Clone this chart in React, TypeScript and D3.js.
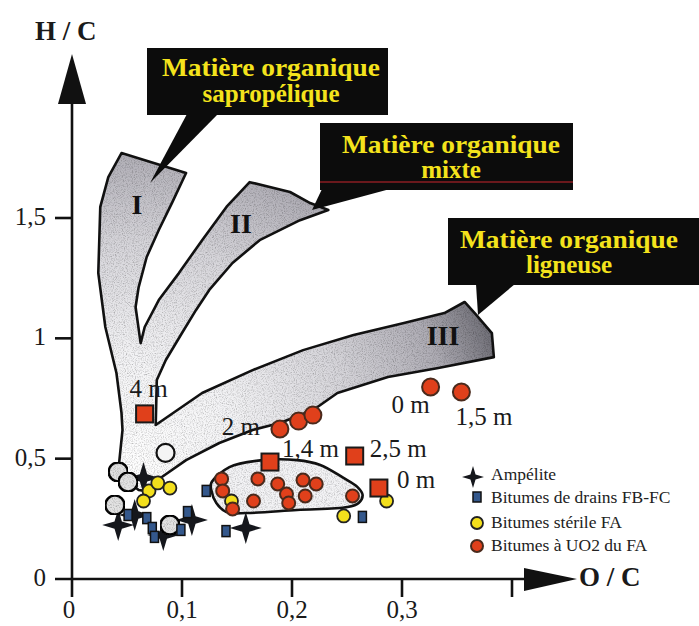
import React from 'react'
import * as d3 from 'd3'

// Diagramme de Van Krevelen : H/C en fonction de O/C

const xTicks = [0, 0.1, 0.2, 0.3, 0.4]
const xTickLabels = ['0', '0,1', '0,2', '0,3', '']
const yTicks = [0, 0.5, 1, 1.5]
const yTickLabels = ['0', '0,5', '1', '1,5']

// échantillons de carotte (carrés rouges), [O/C, H/C]
const carottes = [
  { label: '4 m', oc: 0.066, hc: 0.686 },
  { label: '1,4 m', oc: 0.18, hc: 0.486 },
  { label: '2,5 m', oc: 0.257, hc: 0.511 },
  { label: '0 m', oc: 0.279, hc: 0.378 },
]

// bitumes à UO2 du FA avec profondeur
const uo2Profils = [
  { label: '2 m', oc: 0.189, hc: 0.623 },
  { label: '', oc: 0.206, hc: 0.656 },
  { label: '', oc: 0.219, hc: 0.681 },
  { label: '0 m', oc: 0.326, hc: 0.798 },
  { label: '1,5 m', oc: 0.354, hc: 0.777 },
]

// bitumes à UO2 du FA (dans l'enveloppe)
const uo2 = [
  [0.136, 0.416], [0.137, 0.366], [0.146, 0.291], [0.165, 0.324],
  [0.169, 0.416], [0.187, 0.395], [0.195, 0.353], [0.197, 0.316],
  [0.21, 0.411], [0.212, 0.345], [0.222, 0.395], [0.255, 0.345],
]

// bitumes stérile FA
const steriles = [
  [0.145, 0.324], [0.247, 0.262], [0.286, 0.324], [0.07, 0.366],
  [0.078, 0.399], [0.089, 0.378], [0.065, 0.324],
]

// bitumes de drains FB-FC
const drains = [
  [0.068, 0.253], [0.073, 0.212], [0.075, 0.175], [0.105, 0.278],
  [0.099, 0.204], [0.122, 0.366], [0.14, 0.199], [0.264, 0.258], [0.051, 0.266],
]

// ampélite
const ampelites = [
  [0.065, 0.42], [0.042, 0.224], [0.057, 0.266], [0.083, 0.183],
  [0.109, 0.245], [0.158, 0.212],
]

// autres échantillons (cercles grisés)
const autres = [
  [0.042, 0.445], [0.051, 0.403], [0.039, 0.307], [0.089, 0.224],
]
const autresVides = [[0.085, 0.524]]

// domaines d'évolution I, II, III (contour)
const domaines = [
  [0.0422, 0.453], [0.0459, 0.619], [0.045, 0.69], [0.0404, 0.856],
  [0.0303, 1.047], [0.0239, 1.271], [0.0257, 1.546], [0.033, 1.67],
  [0.045, 1.77], [0.1037, 1.687], [0.0908, 1.562], [0.0789, 1.45],
  [0.0679, 1.338], [0.0606, 1.213], [0.0578, 1.13], [0.0624, 0.98],
  [0.0661, 1.047], [0.0789, 1.159], [0.0972, 1.271], [0.1183, 1.408],
  [0.1404, 1.546], [0.1615, 1.649], [0.1982, 1.608], [0.2165, 1.562],
  [0.233, 1.533], [0.2073, 1.491], [0.1706, 1.408], [0.1459, 1.313],
  [0.1248, 1.201], [0.1128, 1.118], [0.1, 1.022], [0.0853, 0.91],
  [0.0771, 0.827], [0.0761, 0.64], [0.1183, 0.773], [0.1642, 0.868],
  [0.2101, 0.951], [0.256, 1.014], [0.3018, 1.064], [0.3385, 1.105],
  [0.3569, 1.151], [0.3661, 1.105], [0.3817, 1.022], [0.3835, 0.922],
  [0.333, 0.877], [0.2872, 0.839], [0.2413, 0.773], [0.2193, 0.702],
  [0.189, 0.648], [0.1642, 0.619], [0.1339, 0.565], [0.1037, 0.494],
  [0.0817, 0.424], [0.0743, 0.361], [0.0606, 0.37], [0.0468, 0.42],
]

// enveloppe des bitumes à UO2
const enveloppe = [
  [0.1266, 0.399], [0.1431, 0.465], [0.1734, 0.494], [0.2046, 0.494],
  [0.2257, 0.474], [0.2468, 0.42], [0.2596, 0.382], [0.2642, 0.349],
  [0.2606, 0.316], [0.2505, 0.299], [0.2046, 0.287], [0.1587, 0.274],
  [0.1404, 0.278], [0.1312, 0.316], [0.1266, 0.37],
]

const typeLabels = ['I', 'II', 'III']
const boxTitles = [
  ['Matière organique', 'sapropélique'],
  ['Matière organique', 'mixte'],
  ['Matière organique', 'ligneuse'],
]
const legendLabels = ['Ampélite', 'Bitumes de drains FB-FC', 'Bitumes stérile FA', 'Bitumes à UO2 du FA']

const W = 699
const H = 626
const SERIF = '"Liberation Serif", "Times New Roman", serif'

const x = d3.scaleLinear().domain([0, 0.4]).range([72, 512])
const y = d3.scaleLinear().domain([0, 1.5]).range([579, 218])

const labelOffsets: Record<string, [number, number, string]> = {
  'c4 m': [-15, -17, 'start'],
  'c1,4 m': [12, -5, 'start'],
  'c2,5 m': [15, 1, 'start'],
  'c0 m': [18, 0, 'start'],
  'p2 m': [-20, 6, 'end'],
  'p0 m': [-39, 26, 'start'],
  'p1,5 m': [-6, 33, 'start'],
}

function starPath(R: number, r: number) {
  const pts: string[] = []
  for (let i = 0; i < 8; i++) {
    const a = (i * Math.PI) / 4
    const rad = i % 2 === 0 ? R : r
    pts.push(`${(Math.cos(a) * rad).toFixed(2)},${(Math.sin(a) * rad).toFixed(2)}`)
  }
  return 'M' + pts.join('L') + 'Z'
}

const bandLine = d3
  .line<number[]>()
  .x((d) => x(d[0]))
  .y((d) => y(d[1]))
  .curve(d3.curveLinearClosed)

const envLine = d3
  .line<number[]>()
  .x((d) => x(d[0]))
  .y((d) => y(d[1]))
  .curve(d3.curveCatmullRomClosed)

const RED = '#e0401b'
const YELLOW = '#f3df1c'
const BLUE = '#34588c'
const BOX_TEXT = '#f4e31c'

export default function App() {
  const star = starPath(16, 5.2)
  const legendStar = starPath(11, 3.6)

  const boxes = [
    { x: 147, y: 48, w: 241, h: 67, cx: 271, ptr: [[187, 114], [218, 114], [150, 183]] },
    { x: 320, y: 123, w: 253, h: 67, cx: 451, ptr: [[322, 189], [390, 189], [312, 210]] },
    { x: 448, y: 218, w: 251, h: 67, cx: 569, ptr: [[476, 284], [515, 284], [478, 315]] },
  ]
  const baselines = [[76, 102], [153, 178], [248, 273]]
  const typePos = [[137, 214], [241, 233], [443, 345]]

  return (
    <svg width={W} height={H} style={{ position: 'absolute', left: 0, top: 0, background: '#fff' }}>
      <defs>
        <radialGradient id="bandFill" gradientUnits="userSpaceOnUse" cx={130} cy={475} r={385}>
          <stop offset="0" stopColor="#ffffff" />
          <stop offset="0.3" stopColor="#f3f3f5" />
          <stop offset="0.6" stopColor="#d6d5da" />
          <stop offset="0.85" stopColor="#aeacb4" />
          <stop offset="1" stopColor="#73727a" />
        </radialGradient>
        <filter id="grain" x="0" y="0" width="100%" height="100%">
          <feTurbulence type="fractalNoise" baseFrequency="0.9" numOctaves="2" seed="4" result="noise" />
          <feColorMatrix
            in="noise"
            type="matrix"
            values="0 0 0 0 0  0 0 0 0 0  0 0 0 0 0  1.1 0 0 0 -0.48"
            result="dots"
          />
          <feComposite in="dots" in2="SourceGraphic" operator="in" result="clipped" />
          <feMerge>
            <feMergeNode in="SourceGraphic" />
            <feMergeNode in="clipped" />
          </feMerge>
        </filter>
      </defs>

      {/* domaines d'évolution */}
      <path d={bandLine(domaines) || ''} fill="url(#bandFill)" filter="url(#grain)" />
      <path d={bandLine(domaines) || ''} fill="none" stroke="#111" strokeWidth={2.6} strokeLinejoin="round" />
      {typeLabels.map((t, i) => (
        <text key={t} x={typePos[i][0]} y={typePos[i][1]} textAnchor="middle" fontFamily={SERIF} fontWeight="bold" fontSize={28} fill="#111">
          {t}
        </text>
      ))}

      {/* bulles de titre */}
      {boxes.map((b, i) => (
        <g key={i}>
          <polygon points={b.ptr.map((p) => p.join(',')).join(' ')} fill="#0c0c0c" />
          <rect x={b.x} y={b.y} width={b.w} height={b.h} fill="#0c0c0c" />
          {boxTitles[i].map((line, j) => (
            <text
              key={j}
              x={b.cx}
              y={baselines[i][j]}
              textAnchor="middle"
              fontFamily={SERIF}
              fontWeight="bold"
              fontSize={25}
              fill={BOX_TEXT}
              textLength={j === 0 ? 218 : undefined}
              lengthAdjust="spacingAndGlyphs"
            >
              {line}
            </text>
          ))}
        </g>
      ))}
      <line x1={320} x2={573} y1={182} y2={182} stroke="#c8242c" strokeWidth={1} />

      {/* enveloppe */}
      <path d={envLine(enveloppe) || ''} fill="#f3f3f5" filter="url(#grain)" />
      <path d={envLine(enveloppe) || ''} fill="none" stroke="#111" strokeWidth={2.6} />

      {/* ampélite */}
      {ampelites.map((d, i) => (
        <path key={i} d={star} transform={`translate(${x(d[0])},${y(d[1])})`} fill="#15171c" />
      ))}

      {/* autres */}
      {autres.map((d, i) => (
        <circle key={i} cx={x(d[0])} cy={y(d[1])} r={9.5} fill="#e2e2e2" stroke="#111" strokeWidth={2.5} filter="url(#grain)" />
      ))}
      {autresVides.map((d, i) => (
        <circle key={i} cx={x(d[0])} cy={y(d[1])} r={9} fill="#f4f4f4" stroke="#111" strokeWidth={2.2} />
      ))}

      {/* drains */}
      {drains.map((d, i) => (
        <rect key={i} x={x(d[0]) - 4} y={y(d[1]) - 5.5} width={8} height={11} fill={BLUE} stroke="#111" strokeWidth={1.5} />
      ))}

      {/* stériles */}
      {steriles.map((d, i) => (
        <circle key={i} cx={x(d[0])} cy={y(d[1])} r={6.5} fill={YELLOW} stroke="#222" strokeWidth={1.8} />
      ))}

      {/* UO2 */}
      {uo2.map((d, i) => (
        <circle key={i} cx={x(d[0])} cy={y(d[1])} r={6.5} fill={RED} stroke="#4a2a1c" strokeWidth={2} />
      ))}
      {uo2Profils.map((d, i) => (
        <circle key={i} cx={x(d.oc)} cy={y(d.hc)} r={8.5} fill={RED} stroke="#4a2a1c" strokeWidth={2} />
      ))}
      {carottes.map((d, i) => (
        <rect key={i} x={x(d.oc) - 8.5} y={y(d.hc) - 8.5} width={17} height={17} fill={RED} stroke="#1a1a1a" strokeWidth={2} />
      ))}

      {/* étiquettes de profondeur */}
      {carottes.map((d, i) => {
        const o = labelOffsets['c' + d.label]
        return (
          <text key={'c' + i} x={x(d.oc) + o[0]} y={y(d.hc) + o[1]} textAnchor={o[2]} fontFamily={SERIF} fontSize={25} fill="#1a1a1a">
            {d.label}
          </text>
        )
      })}
      {uo2Profils
        .filter((d) => d.label)
        .map((d, i) => {
          const o = labelOffsets['p' + d.label]
          return (
            <text key={'p' + i} x={x(d.oc) + o[0]} y={y(d.hc) + o[1]} textAnchor={o[2]} fontFamily={SERIF} fontSize={25} fill="#1a1a1a">
              {d.label}
            </text>
          )
        })}

      {/* légende */}
      <g fontFamily={SERIF} fontSize={17.5} fill="#222">
        <path d={legendStar} transform="translate(473,477)" fill="#15171c" />
        <rect x={473} y={492} width={8} height={10} fill={BLUE} stroke="#111" strokeWidth={1.5} />
        <circle cx={477} cy={523} r={6} fill={YELLOW} stroke="#222" strokeWidth={1.8} />
        <circle cx={477} cy={546} r={6} fill={RED} stroke="#4a2a1c" strokeWidth={2} />
        {legendLabels.map((l, i) => (
          <text key={l} x={491} y={[480, 503, 528, 551][i]}>
            {l}
          </text>
        ))}
      </g>

      {/* axes */}
      <g stroke="#111" strokeWidth={2.6}>
        <line x1={x(0)} x2={x(0)} y1={597} y2={100} />
        <line x1={55} x2={528} y1={y(0)} y2={y(0)} />
        {yTicks.slice(1).map((t) => (
          <line key={t} x1={55} x2={x(0)} y1={y(t)} y2={y(t)} />
        ))}
        {xTicks.slice(1).map((t) => (
          <line key={t} x1={x(t)} x2={x(t)} y1={y(0)} y2={597} />
        ))}
      </g>
      <polygon points={`${x(0)},54 ${x(0) - 14},104 ${x(0) + 14},104`} fill="#111" />
      <polygon points={`524,568 577,${y(0)} 524,591`} fill="#111" />

      <g fontFamily={SERIF} fontSize={25} fill="#1a1a1a">
        {yTicks.map((t, i) => (
          <text key={t} x={46} y={y(t) + 7} textAnchor="end">
            {yTickLabels[i]}
          </text>
        ))}
        {xTicks.map((t, i) => (
          <text key={t} x={x(t) - (i === 0 ? 3 : 0)} y={618} textAnchor="middle">
            {xTickLabels[i]}
          </text>
        ))}
      </g>
      <text x={35} y={40} fontFamily={SERIF} fontWeight="bold" fontSize={27} fill="#1a1a1a">
        H / C
      </text>
      <text x={579} y={586} fontFamily={SERIF} fontWeight="bold" fontSize={27} fill="#1a1a1a">
        O / C
      </text>
    </svg>
  )
}
